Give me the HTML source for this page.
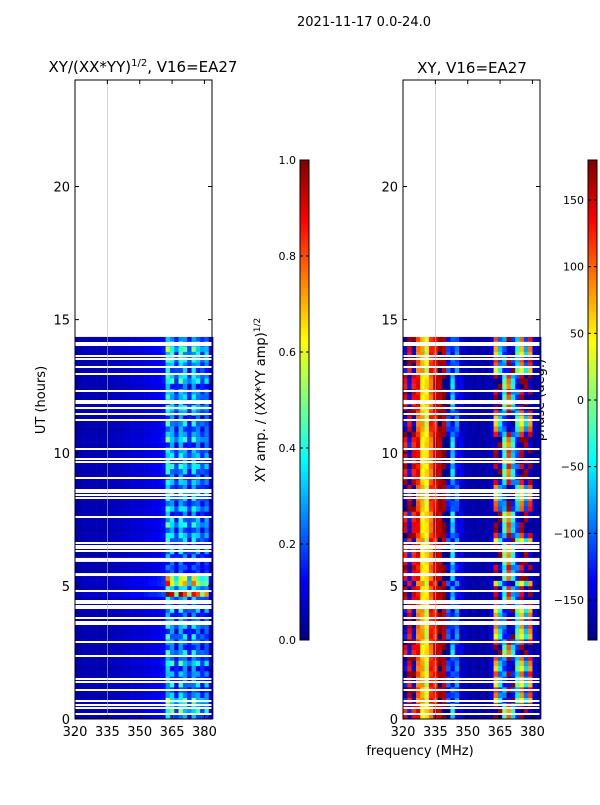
<!DOCTYPE html>
<html><head><meta charset="utf-8"><style>
body{margin:0;background:#fff}
svg text{font-family:"DejaVu Sans","Liberation Sans",sans-serif;fill:#000}
</style></head><body>
<svg id="fig" width="600" height="800" viewBox="0 0 600 800" xmlns="http://www.w3.org/2000/svg">
<text x="364" y="26" font-size="13" text-anchor="middle">2021-11-17 0.0-24.0</text>
<text x="143" y="72" font-size="15" text-anchor="middle">XY/(XX*YY)<tspan font-size="10" dy="-6">1/2</tspan><tspan dy="6">, V16=EA27</tspan></text>
<text x="472" y="73" font-size="15" text-anchor="middle">XY, V16=EA27</text>
<text x="420" y="755" font-size="13" text-anchor="middle">frequency (MHz)</text>
<text transform="translate(45,400) rotate(-90)" font-size="13" text-anchor="middle">UT (hours)</text>
<text transform="translate(265,400) rotate(-90)" font-size="13" text-anchor="middle">XY amp. / (XX*YY amp)<tspan font-size="9" dy="-5">1/2</tspan></text>
<text transform="translate(544,400) rotate(-90)" font-size="13" text-anchor="middle">phase (deg.)</text>
<g id="left"></g>
<g id="right"></g>
<g id="cbars"></g>
</svg>
<script>
const freqs=[321,323,325,327,329,331,333,335,337,339,341,343,345,347,349,351,353,355,357,359,361,363,365,367,369,371,373,375,377,379,381,383];
const ampProfile=[0.04,0.04,0.05,0.05,0.05,0.05,0.05,0.05,0.06,0.06,0.06,0.07,0.07,0.08,0.08,0.08,0.09,0.1,0.1,0.11,0.13,0.34,0.3,0.16,0.32,0.28,0.16,0.3,0.26,0.17,0.24,0.07];
const phaseProfile=[175,-175,165,120,60,40,110,140,165,170,-140,-90,-120,-150,-160,-165,-165,-165,-165,-165,-150,130,-120,-60,150,-100,-80,120,-130,150,-160,-160];
const phaseSpread=[70,70,60,40,30,30,30,30,20,20,50,60,50,20,10,8,8,8,8,8,15,90,90,80,90,90,80,90,90,90,20,10];
const rowHours=[0,0.2,0.4,0.6,0.8,1,1.2,1.4,1.6,1.8,2,2.2,2.4,2.6,2.8,3,3.2,3.4,3.6,3.8,4,4.2,4.4,4.6,4.8,5,5.2,5.4,5.6,5.8,6,6.2,6.4,6.6,6.8,7,7.2,7.4,7.6,7.8,8,8.2,8.4,8.6,8.8,9,9.2,9.4,9.6,9.8,10,10.2,10.4,10.6,10.8,11,11.2,11.4,11.6,11.8,12,12.2,12.4,12.6,12.8,13,13.2,13.4,13.6,13.8,14,14.2];
const rowAmp=[0.9,1.4,1.2,1.5,1.0,0.7,1.1,0.8,1.0,0.7,1.3,0.8,1.1,0.7,0.9,1.0,0.7,1.1,0.9,0.7,1.0,0.8,1.0,3.0,1.2,2.3,2.0,0.6,0.7,0.6,0.7,0.9,0.6,1.0,1.2,0.8,1.3,1.0,0.7,1.2,0.8,1.0,1.3,0.8,1.1,0.7,1.0,1.3,0.8,1.1,1.0,0.7,1.3,1.0,0.8,1.1,0.7,1.0,1.3,0.8,1.1,1.0,0.7,1.3,1.2,0.9,1.0,1.3,1.2,1.5,1.1,0.9];
const rowShift=[0.5,-0.8,0.3,0.9,-0.4,0.1,-0.9,0.6,-0.2,0.8,-0.6,0.2,0.7,-0.5,-0.1,0.9,-0.7,0.4,-0.3,0.6,-0.9,0.2,0.5,-0.2,0.3,0.8,0.6,-0.4,0.1,-0.6,0.7,-0.8,0.3,0.9,-0.1,-0.5,0.4,-0.7,0.8,0.2,-0.3,0.6,-0.9,0.5,0.1,-0.6,0.7,-0.2,0.9,-0.4,0.3,-0.8,0.6,0.0,-0.5,0.8,-0.7,0.2,0.4,-0.9,0.5,-0.1,0.7,-0.6,0.3,0.9,-0.3,0.1,-0.8,0.6,-0.4,0.2];
const flagHours=[0.19,0.41,0.53,0.68,1.09,1.39,1.5,2.37,2.89,3.57,3.64,3.79,4.17,4.24,4.36,4.43,4.81,6.31,6.42,6.5,6.61,7.59,8.3,8.41,8.53,8.6,9.05,9.65,9.77,10.14,11.23,11.46,11.68,11.87,11.94,12.32,12.96,13.22,13.52,13.63,14.05,14.12];
const flagBands=[[5.37,5.48],[5.9,6.05]];
const xTicks=[320,335,350,365,380];
const yTicks=[0,5,10,15,20];
const ampTicks=[0,0.2,0.4,0.6,0.8,1.0];
const phaseTicks=[-150,-100,-50,0,50,100,150];
const dataEnd=14.35;

const NS="http://www.w3.org/2000/svg";
const Y0=719,Y1=80,F0=320,F1=383.5;
function yS(h){return Y0-(h/24)*(Y0-Y1);}
function xS(f,x0){return x0+(f-F0)/(F1-F0)*137;}
function cl(v){return Math.max(0,Math.min(1,v));}
function jet(t){t=cl(t);const r=cl(1.5-Math.abs(4*t-3)),g=cl(1.5-Math.abs(4*t-2)),b=cl(1.5-Math.abs(4*t-1));return `rgb(${Math.round(r*255)},${Math.round(g*255)},${Math.round(b*255)})`;}
function mk(tag,attrs,parent){const e=document.createElementNS(NS,tag);for(const k in attrs)e.setAttribute(k,attrs[k]);parent.appendChild(e);return e;}
function wrap(p){while(p>180)p-=360;while(p<-180)p+=360;return p;}
function alt(c){return c%2?1:-1;}

function panel(gid,x0,valFn){
  const g=document.getElementById(gid);
  mk('rect',{x:x0,y:Y1,width:137,height:Y0-Y1,fill:'#fff'},g);
  rowHours.forEach((h,r)=>{
    const hTop=Math.min(h+0.2,dataEnd);
    freqs.forEach((f,c)=>{
      const cell=mk('rect',{x:xS(f-1,x0),y:yS(hTop),width:xS(f+1,x0)-xS(f-1,x0)+0.3,height:yS(h)-yS(hTop)+0.3,fill:valFn(r,c)},g);
      
      
    });
  });
  flagHours.forEach(h=>{const fl=mk('rect',{x:x0,y:Math.round(yS(h))-1,width:137,height:2,fill:'#fff'},g);
    
    });
  flagBands.forEach(b=>{const fb=mk('rect',{x:x0,y:yS(b[1]),width:137,height:yS(b[0])-yS(b[1]),fill:'#fff'},g);
    
    });
  mk('line',{x1:xS(335,x0),x2:xS(335,x0),y1:Y1,y2:Y0,stroke:'#bbb','stroke-width':0.6},g);
  const fr=mk('rect',{x:x0,y:Y1,width:137,height:Y0-Y1,fill:'none',stroke:'#000','stroke-width':1},g);
  
  
  xTicks.forEach(t=>{const x=xS(t,x0);
    mk('line',{x1:x,x2:x,y1:Y0,y2:Y0-4,stroke:'#000'},g);mk('line',{x1:x,x2:x,y1:Y1,y2:Y1+4,stroke:'#000'},g);
    const tx=mk('text',{x:x,y:Y0+17,'font-size':13,'text-anchor':'middle'},g);tx.textContent=t;
    
    });
  yTicks.forEach(t=>{const y=yS(t);
    mk('line',{x1:x0,x2:x0+4,y1:y,y2:y,stroke:'#000'},g);mk('line',{x1:x0+137,x2:x0+133,y1:y,y2:y,stroke:'#000'},g);
    const ty=mk('text',{x:x0-5,y:y+5,'font-size':13,'text-anchor':'end'},g);ty.textContent=t;
    
    });
}
panel('left',75,(r,c)=>{const p=ampProfile[c];
  const k=p>0.15?rowAmp[r]+0.35*rowShift[r]*alt(c):1+0.3*(rowAmp[r]-1);
  return jet(p*k);});
panel('right',403,(r,c)=>jet((wrap(phaseProfile[c]+rowShift[r]*phaseSpread[c]*alt(c+r))+180)/360));

function cbar(x,ticks,lo,hi,fmt){
  const g=document.getElementById('cbars');
  const cg=mk('g',{},g);
  
  
  const n=120;for(let i=0;i<n;i++){mk('rect',{x:x,y:640-(i+1)*4,width:9,height:4.3,fill:jet((i+0.5)/n)},cg);}
  mk('rect',{x:x,y:160,width:9,height:480,fill:'none',stroke:'#000','stroke-width':1},cg);
  ticks.forEach(t=>{const y=640-(t-lo)/(hi-lo)*480;
    mk('line',{x1:x,x2:x+3,y1:y,y2:y,stroke:'#000'},cg);mk('line',{x1:x+9,x2:x+6,y1:y,y2:y,stroke:'#000'},cg);
    const tl=mk('text',{x:x-4,y:y+4,'font-size':11,'text-anchor':'end'},cg);tl.textContent=fmt(t);
    
    });
}
cbar(300,ampTicks,0,1,t=>t.toFixed(1));
cbar(588,phaseTicks,-180,180,t=>t<0?'\u2212'+Math.abs(t):String(t));
</script>
</body></html>
